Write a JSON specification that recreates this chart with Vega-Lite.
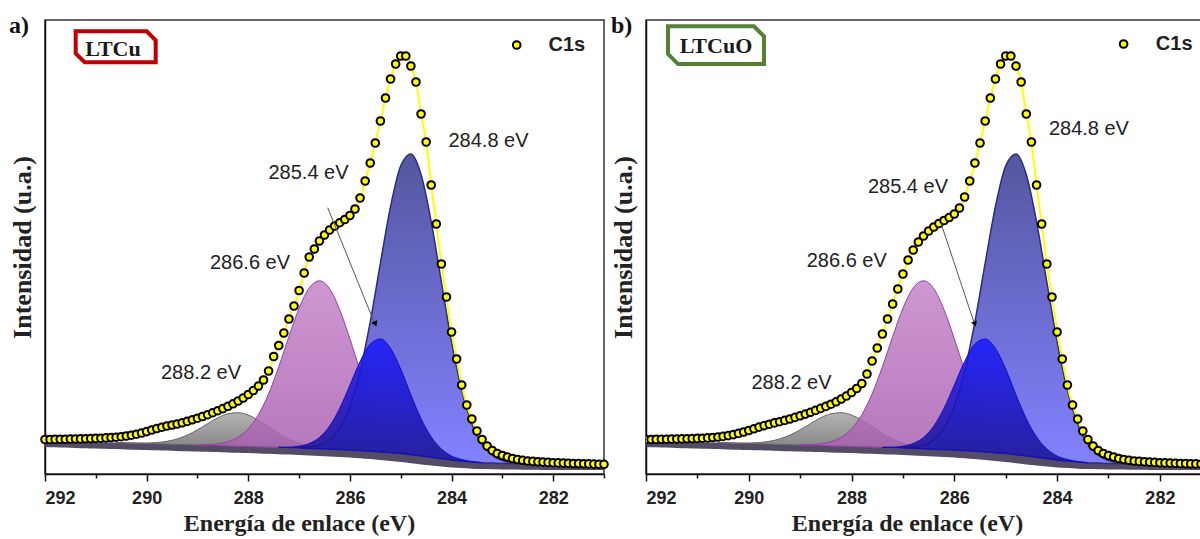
{
  "$schema": "https://vega.github.io/schema/vega-lite/v6.json",
  "padding": {"left": 8, "top": 13, "right": 0, "bottom": 0},
  "background": "white",
  "spacing": 42,
  "bounds": "flush",
  "config": {
    "view": {"stroke": "#333", "strokeWidth": 1.5},
    "axis": {"grid": false, "domainColor": "#111", "domainWidth": 1.5, "tickColor": "#111", "tickWidth": 1.5, "labelFont": "Liberation Sans", "labelFontWeight": "bold", "labelFontSize": 18, "labelColor": "#222", "titleFont": "Liberation Serif", "titleFontWeight": "bold", "titleFontSize": 24, "titleColor": "#222"}
  },
  "datasets": {
    "dots": [
      {"e":292.0,"i":34.5},{"e":291.9,"i":34.5},{"e":291.8,"i":34.6},{"e":291.7,"i":34.7},{"e":291.6,"i":34.8},{"e":291.5,"i":34.9},{"e":291.4,"i":35.0},{"e":291.3,"i":35.1},{"e":291.2,"i":35.2},{"e":291.1,"i":35.4},
      {"e":291.0,"i":35.6},{"e":290.9,"i":35.8},{"e":290.8,"i":36.1},{"e":290.7,"i":36.4},{"e":290.6,"i":36.8},{"e":290.5,"i":37.3},{"e":290.4,"i":38.0},{"e":290.3,"i":38.8},{"e":290.2,"i":39.8},{"e":290.1,"i":41.0},
      {"e":290.0,"i":42.4},{"e":289.9,"i":44.0},{"e":289.8,"i":45.5},{"e":289.7,"i":46.8},{"e":289.6,"i":48.0},{"e":289.5,"i":49.0},{"e":289.4,"i":50.0},{"e":289.3,"i":51.2},{"e":289.2,"i":52.6},{"e":289.1,"i":54.2},
      {"e":289.0,"i":55.8},{"e":288.9,"i":57.5},{"e":288.8,"i":59.3},{"e":288.7,"i":61.3},{"e":288.6,"i":63.3},{"e":288.5,"i":65.4},{"e":288.4,"i":67.7},{"e":288.3,"i":70.2},{"e":288.2,"i":73.0},{"e":288.1,"i":76.0},
      {"e":288.0,"i":79.5},{"e":287.9,"i":83.5},{"e":287.8,"i":88.0},{"e":287.7,"i":94.0},{"e":287.6,"i":103.0},{"e":287.5,"i":117.5},{"e":287.4,"i":128.5},{"e":287.3,"i":141.0},{"e":287.2,"i":155.0},{"e":287.1,"i":168.0},
      {"e":287.0,"i":183.5},{"e":286.9,"i":201.0},{"e":286.8,"i":217.0},{"e":286.7,"i":225.0},{"e":286.6,"i":233.0},{"e":286.5,"i":239.0},{"e":286.4,"i":244.0},{"e":286.3,"i":248.0},{"e":286.2,"i":251.3},{"e":286.1,"i":254.5},
      {"e":286.0,"i":258.5},{"e":285.9,"i":265},{"e":285.8,"i":276},{"e":285.7,"i":293},{"e":285.6,"i":311},{"e":285.5,"i":331},{"e":285.4,"i":353},{"e":285.3,"i":376},{"e":285.2,"i":395},{"e":285.1,"i":410},
      {"e":285.0,"i":418},{"e":284.9,"i":418},{"e":284.8,"i":408},{"e":284.7,"i":392},{"e":284.6,"i":360},{"e":284.5,"i":332},{"e":284.4,"i":289},{"e":284.3,"i":250},{"e":284.2,"i":210},{"e":284.1,"i":177},
      {"e":284.0,"i":142},{"e":283.9,"i":115},{"e":283.8,"i":89},{"e":283.7,"i":69},{"e":283.6,"i":55},{"e":283.5,"i":43},{"e":283.4,"i":34.5},{"e":283.3,"i":28},{"e":283.2,"i":23.5},{"e":283.1,"i":20.5},
      {"e":283.0,"i":18.5},{"e":282.9,"i":17},{"e":282.8,"i":15.5},{"e":282.7,"i":14.5},{"e":282.6,"i":13.7},{"e":282.5,"i":13},{"e":282.4,"i":12.6},{"e":282.3,"i":12.2},{"e":282.2,"i":11.9},{"e":282.1,"i":11.6},
      {"e":282.0,"i":11.3},{"e":281.9,"i":11.1},{"e":281.8,"i":10.9},{"e":281.7,"i":10.7},{"e":281.6,"i":10.5},{"e":281.5,"i":10.4},{"e":281.4,"i":10.2},{"e":281.3,"i":10.1},{"e":281.2,"i":9.9},{"e":281.1,"i":9.8},
      {"e":281.0,"i":9.7}
    ],
    "dotsB": [
      {"e":292.0,"i":34.5},{"e":291.9,"i":34.5},{"e":291.8,"i":34.6},{"e":291.7,"i":34.7},{"e":291.6,"i":34.8},{"e":291.5,"i":34.9},{"e":291.4,"i":35.0},{"e":291.3,"i":35.1},{"e":291.2,"i":35.2},{"e":291.1,"i":35.4},
      {"e":291.0,"i":35.6},{"e":290.9,"i":35.8},{"e":290.8,"i":36.1},{"e":290.7,"i":36.5},{"e":290.6,"i":37.0},{"e":290.5,"i":37.6},{"e":290.4,"i":38.4},{"e":290.3,"i":39.4},{"e":290.2,"i":40.6},{"e":290.1,"i":42.0},
      {"e":290.0,"i":43.5},{"e":289.9,"i":45.2},{"e":289.8,"i":46.9},{"e":289.7,"i":48.4},{"e":289.6,"i":49.8},{"e":289.5,"i":51.1},{"e":289.4,"i":52.3},{"e":289.3,"i":53.6},{"e":289.2,"i":55.0},{"e":289.1,"i":56.6},
      {"e":289.0,"i":58.2},{"e":288.9,"i":59.9},{"e":288.8,"i":61.7},{"e":288.7,"i":63.6},{"e":288.6,"i":65.6},{"e":288.5,"i":67.6},{"e":288.4,"i":69.8},{"e":288.3,"i":72.2},{"e":288.2,"i":75.0},{"e":288.1,"i":78.0},
      {"e":288.0,"i":81.5},{"e":287.9,"i":85.5},{"e":287.8,"i":90.5},{"e":287.7,"i":100.0},{"e":287.6,"i":113.0},{"e":287.5,"i":126.0},{"e":287.4,"i":140.0},{"e":287.3,"i":155.0},{"e":287.2,"i":170.0},{"e":287.1,"i":185.0},
      {"e":287.0,"i":200.0},{"e":286.9,"i":214.0},{"e":286.8,"i":224.0},{"e":286.7,"i":232.0},{"e":286.6,"i":238.0},{"e":286.5,"i":243.0},{"e":286.4,"i":247.0},{"e":286.3,"i":250.5},{"e":286.2,"i":253.5},{"e":286.1,"i":256.5},
      {"e":286.0,"i":260.0},{"e":285.9,"i":266},{"e":285.8,"i":277},{"e":285.7,"i":293},{"e":285.6,"i":311},{"e":285.5,"i":331},{"e":285.4,"i":353},{"e":285.3,"i":376},{"e":285.2,"i":395},{"e":285.1,"i":410},
      {"e":285.0,"i":418},{"e":284.9,"i":418},{"e":284.8,"i":408},{"e":284.7,"i":392},{"e":284.6,"i":360},{"e":284.5,"i":332},{"e":284.4,"i":289},{"e":284.3,"i":250},{"e":284.2,"i":210},{"e":284.1,"i":177},
      {"e":284.0,"i":142},{"e":283.9,"i":115},{"e":283.8,"i":89},{"e":283.7,"i":69},{"e":283.6,"i":55},{"e":283.5,"i":43},{"e":283.4,"i":34.5},{"e":283.3,"i":28},{"e":283.2,"i":23.5},{"e":283.1,"i":20.5},
      {"e":283.0,"i":18.5},{"e":282.9,"i":17},{"e":282.8,"i":15.5},{"e":282.7,"i":14.5},{"e":282.6,"i":13.7},{"e":282.5,"i":13},{"e":282.4,"i":12.6},{"e":282.3,"i":12.2},{"e":282.2,"i":11.9},{"e":282.1,"i":11.6},
      {"e":282.0,"i":11.3},{"e":281.9,"i":11.1},{"e":281.8,"i":10.9},{"e":281.7,"i":10.7},{"e":281.6,"i":10.5},{"e":281.5,"i":10.4},{"e":281.4,"i":10.2},{"e":281.3,"i":10.1},{"e":281.2,"i":9.9},{"e":281.1,"i":9.8},
      {"e":281.0,"i":9.7}
    ],
    "fit": [
      {"k":"bg","e":292.0,"i":33,"b":27},{"k":"bg","e":291.8,"i":32.8,"b":26.7},{"k":"bg","e":291.6,"i":32.6,"b":26.4},{"k":"bg","e":291.4,"i":32.4,"b":26.1},{"k":"bg","e":291.2,"i":32.2,"b":25.8},
      {"k":"bg","e":291.0,"i":32,"b":25.5},{"k":"bg","e":290.8,"i":31.7,"b":25.2},{"k":"bg","e":290.6,"i":31.4,"b":24.9},{"k":"bg","e":290.4,"i":31.1,"b":24.6},{"k":"bg","e":290.2,"i":30.8,"b":24.3},
      {"k":"bg","e":290.0,"i":30.5,"b":24},{"k":"bg","e":289.8,"i":30.2,"b":23.7},{"k":"bg","e":289.6,"i":29.9,"b":23.4},{"k":"bg","e":289.4,"i":29.6,"b":23.1},{"k":"bg","e":289.2,"i":29.3,"b":22.8},
      {"k":"bg","e":289.0,"i":29,"b":22.5},{"k":"bg","e":288.8,"i":28.7,"b":22.2},{"k":"bg","e":288.6,"i":28.4,"b":21.9},{"k":"bg","e":288.4,"i":28.1,"b":21.6},{"k":"bg","e":288.2,"i":27.8,"b":21.3},
      {"k":"bg","e":288.0,"i":27.5,"b":21},{"k":"bg","e":287.8,"i":27.2,"b":20.6},{"k":"bg","e":287.6,"i":26.9,"b":20.2},{"k":"bg","e":287.4,"i":26.6,"b":19.8},{"k":"bg","e":287.2,"i":26.3,"b":19.4},
      {"k":"bg","e":287.0,"i":26,"b":19},{"k":"bg","e":286.8,"i":25.6,"b":18.5},{"k":"bg","e":286.6,"i":25.2,"b":18},{"k":"bg","e":286.4,"i":24.8,"b":17.5},{"k":"bg","e":286.2,"i":24.4,"b":17},
      {"k":"bg","e":286.0,"i":24,"b":16.5},{"k":"bg","e":285.8,"i":23.4,"b":15.7},{"k":"bg","e":285.6,"i":22.8,"b":14.9},{"k":"bg","e":285.4,"i":22.1,"b":14},{"k":"bg","e":285.2,"i":21.3,"b":13},
      {"k":"bg","e":285.0,"i":20.5,"b":12},{"k":"bg","e":284.8,"i":19.3,"b":10.8},{"k":"bg","e":284.6,"i":18.1,"b":9.6},{"k":"bg","e":284.4,"i":16.8,"b":8.5},{"k":"bg","e":284.2,"i":15.4,"b":7.5},
      {"k":"bg","e":284.0,"i":14,"b":6.5},{"k":"bg","e":283.8,"i":13,"b":5.9},{"k":"bg","e":283.6,"i":12,"b":5.3},{"k":"bg","e":283.4,"i":11.3,"b":4.9},{"k":"bg","e":283.2,"i":10.9,"b":4.7},
      {"k":"bg","e":283.0,"i":10.5,"b":4.5},{"k":"bg","e":282.8,"i":10.4,"b":4.4},{"k":"bg","e":282.6,"i":10.3,"b":4.3},{"k":"bg","e":282.4,"i":10.2,"b":4.2},{"k":"bg","e":282.2,"i":10.1,"b":4.1},
      {"k":"bg","e":282.0,"i":10,"b":4},{"k":"bg","e":281.8,"i":9.9,"b":4},{"k":"bg","e":281.6,"i":9.8,"b":4},{"k":"bg","e":281.4,"i":9.7,"b":4},{"k":"bg","e":281.2,"i":9.6,"b":4},{"k":"bg","e":281.0,"i":9.5,"b":4},

      {"k":"c4","e":290.6,"i":31.4,"b":31.4},{"k":"c4","e":290.4,"i":31.2,"b":31.1},{"k":"c4","e":290.2,"i":31.0,"b":30.8},{"k":"c4","e":290.0,"i":31.0,"b":30.5},{"k":"c4","e":289.8,"i":31.5,"b":30.2},
      {"k":"c4","e":289.6,"i":32.7,"b":29.9},{"k":"c4","e":289.4,"i":35.1,"b":29.6},{"k":"c4","e":289.2,"i":38.9,"b":29.3},{"k":"c4","e":289.0,"i":44.2,"b":29},{"k":"c4","e":288.8,"i":50.3,"b":28.7},
      {"k":"c4","e":288.6,"i":56.2,"b":28.4},{"k":"c4","e":288.4,"i":60.2,"b":28.1},{"k":"c4","e":288.2,"i":61.3,"b":27.8},{"k":"c4","e":288.0,"i":59.0,"b":27.5},{"k":"c4","e":287.8,"i":53.8,"b":27.2},
      {"k":"c4","e":287.6,"i":47.2,"b":26.9},{"k":"c4","e":287.4,"i":40.6,"b":26.6},{"k":"c4","e":287.2,"i":35.0,"b":26.3},{"k":"c4","e":287.0,"i":30.8,"b":26},{"k":"c4","e":286.8,"i":28.0,"b":25.6},
      {"k":"c4","e":286.6,"i":26.3,"b":25.2},{"k":"c4","e":286.4,"i":25.3,"b":24.8},{"k":"c4","e":286.2,"i":24.6,"b":24.4},{"k":"c4","e":286.0,"i":24.0,"b":24},

      {"k":"c3","e":289.0,"i":29.2,"b":29},{"k":"c3","e":288.8,"i":29.4,"b":28.7},{"k":"c3","e":288.6,"i":30.1,"b":28.4},{"k":"c3","e":288.4,"i":32.2,"b":28.1},{"k":"c3","e":288.2,"i":36.7,"b":27.8},
      {"k":"c3","e":288.0,"i":45.2,"b":27.5},{"k":"c3","e":287.8,"i":59.4,"b":27.2},{"k":"c3","e":287.6,"i":80.2,"b":26.9},{"k":"c3","e":287.4,"i":107.2,"b":26.6},{"k":"c3","e":287.2,"i":137.4,"b":26.3},
      {"k":"c3","e":287.0,"i":165.8,"b":26},{"k":"c3","e":286.8,"i":186.1,"b":25.6},{"k":"c3","e":286.6,"i":193.2,"b":25.2},{"k":"c3","e":286.4,"i":185.3,"b":24.8},{"k":"c3","e":286.2,"i":164.2,"b":24.4},
      {"k":"c3","e":286.0,"i":135.1,"b":24},{"k":"c3","e":285.8,"i":104.0,"b":23.4},{"k":"c3","e":285.6,"i":76.1,"b":22.8},{"k":"c3","e":285.4,"i":54.3,"b":22.1},{"k":"c3","e":285.2,"i":39.0,"b":21.3},
      {"k":"c3","e":285.0,"i":29.4,"b":20.5},{"k":"c3","e":284.8,"i":23.4,"b":19.3},{"k":"c3","e":284.6,"i":19.8,"b":18.1},{"k":"c3","e":284.4,"i":17.5,"b":16.8},{"k":"c3","e":284.2,"i":15.6,"b":15.4},

      {"k":"c2","e":287.4,"i":26.8,"b":26.6},{"k":"c2","e":287.2,"i":26.9,"b":26.3},{"k":"c2","e":287.0,"i":27.8,"b":26},{"k":"c2","e":286.8,"i":30.5,"b":25.6},{"k":"c2","e":286.6,"i":36.5,"b":25.2},
      {"k":"c2","e":286.4,"i":47.9,"b":24.8},{"k":"c2","e":286.2,"i":65.7,"b":24.4},{"k":"c2","e":286.0,"i":88.8,"b":24},{"k":"c2","e":285.8,"i":112.4,"b":23.4},{"k":"c2","e":285.6,"i":129.9,"b":22.8},
      {"k":"c2","e":285.4,"i":135.0,"b":22.1},{"k":"c2","e":285.2,"i":125.6,"b":21.3},{"k":"c2","e":285.0,"i":104.9,"b":20.5},{"k":"c2","e":284.8,"i":79.2,"b":19.3},{"k":"c2","e":284.6,"i":55.3,"b":18.1},
      {"k":"c2","e":284.4,"i":37.0,"b":16.8},{"k":"c2","e":284.2,"i":25.1,"b":15.4},{"k":"c2","e":284.0,"i":18.0,"b":14},{"k":"c2","e":283.8,"i":14.5,"b":13},{"k":"c2","e":283.6,"i":12.5,"b":12},{"k":"c2","e":283.4,"i":11.4,"b":11.3},

      {"k":"c1","e":287.0,"i":26.4,"b":26},{"k":"c1","e":286.8,"i":26.9,"b":25.6},{"k":"c1","e":286.6,"i":28.9,"b":25.2},{"k":"c1","e":286.4,"i":34.2,"b":24.8},{"k":"c1","e":286.2,"i":45.8,"b":24.4},
      {"k":"c1","e":286.0,"i":67.5,"b":24},{"k":"c1","e":285.8,"i":102.7,"b":23.4},{"k":"c1","e":285.6,"i":152.1,"b":22.8},{"k":"c1","e":285.4,"i":210.8,"b":22.1},{"k":"c1","e":285.2,"i":267.6,"b":21.3},
      {"k":"c1","e":285.0,"i":308.3,"b":20.5},{"k":"c1","e":284.8,"i":320.1,"b":19.3},{"k":"c1","e":284.6,"i":299.5,"b":18.1},{"k":"c1","e":284.4,"i":252.4,"b":16.8},{"k":"c1","e":284.2,"i":191.9,"b":15.4},
      {"k":"c1","e":284.0,"i":132.3,"b":14},{"k":"c1","e":283.8,"i":83.9,"b":13},{"k":"c1","e":283.6,"i":50.1,"b":12},{"k":"c1","e":283.4,"i":29.6,"b":11.3},{"k":"c1","e":283.2,"i":18.8,"b":10.9},
      {"k":"c1","e":283.0,"i":13.5,"b":10.5},{"k":"c1","e":282.8,"i":11.4,"b":10.4},{"k":"c1","e":282.6,"i":10.6,"b":10.3},{"k":"c1","e":282.4,"i":10.2,"b":10.2}
    ],
    "labA": [{"e":283.273,"i":333,"t":"284.8 eV"},{"e":286.815,"i":301,"t":"285.4 eV"},{"e":287.966,"i":211.3,"t":"286.6 eV"},{"e":288.93,"i":101.3,"t":"288.2 eV"}],
    "labB": [{"e":283.381,"i":345,"t":"284.8 eV"},{"e":286.903,"i":287,"t":"285.4 eV"},{"e":288.093,"i":213,"t":"286.6 eV"},{"e":289.169,"i":91.3,"t":"288.2 eV"}]
  },
  "hconcat": [
    {
      "width": 559, "height": 454,
      "encoding": {
        "x": {"field": "e", "type": "quantitative", "title": "Energía de enlace (eV)", "scale": {"domain": [292, 281], "nice": false, "zero": false},
              "axis": {"values": [292,291,290,289,288,287,286,285,284,283,282,281], "labelExpr": "datum.value % 2 === 0 ? datum.label : ''", "tickSize": {"condition": {"test": "datum.value % 2 === 0", "value": 7}, "value": 4}, "labelPadding": 8, "titlePadding": 4, "titleX": 254}},
        "y": {"field": "i", "type": "quantitative", "title": "Intensidad (u.a.)", "scale": {"domain": [0, 454], "nice": false, "zero": false}, "axis": {"labels": false, "ticks": false, "titlePadding": 10, "titleFontSize": 26}}
      },
      "layer": [
        {"data": {"name": "fit"}, "transform": [{"filter": "datum.k === 'bg'"}], "mark": {"type": "area", "interpolate": "monotone", "color": "#453c58", "opacity": 0.92}, "encoding": {"y2": {"field": "b"}}},
        {"data": {"name": "fit"}, "transform": [{"filter": "datum.k === 'c4'"}], "mark": {"type": "area", "interpolate": "monotone", "fill": {"gradient": "linear", "x1": 0, "y1": 0, "x2": 0, "y2": 1, "stops": [{"offset": 0, "color": "#ababab"}, {"offset": 1, "color": "#767676"}]}, "fillOpacity": 0.9, "stroke": "#666666", "strokeWidth": 1}, "encoding": {"y2": {"field": "b"}}},
        {"data": {"name": "fit"}, "transform": [{"filter": "datum.k === 'c3'"}], "mark": {"type": "area", "interpolate": "monotone", "fill": {"gradient": "linear", "x1": 0, "y1": 0, "x2": 0, "y2": 1, "stops": [{"offset": 0, "color": "#c585c9"}, {"offset": 1, "color": "#a860b0"}]}, "fillOpacity": 0.85, "stroke": "#9040a0", "strokeWidth": 1}, "encoding": {"y2": {"field": "b"}}},
        {"data": {"name": "fit"}, "transform": [{"filter": "datum.k === 'c1'"}], "mark": {"type": "area", "interpolate": "monotone", "fill": {"gradient": "linear", "x1": 0, "y1": 0, "x2": 0, "y2": 1, "stops": [{"offset": 0, "color": "#4c4d9a"}, {"offset": 1, "color": "#7b7bff"}]}, "fillOpacity": 0.95, "stroke": "#2c2c80", "strokeWidth": 1.5}, "encoding": {"y2": {"field": "b"}}},
        {"data": {"name": "fit"}, "transform": [{"filter": "datum.k === 'c2'"}], "mark": {"type": "area", "interpolate": "monotone", "fill": {"gradient": "linear", "x1": 0, "y1": 0, "x2": 0, "y2": 1, "stops": [{"offset": 0, "color": "#1818ff"}, {"offset": 1, "color": "#18108c"}]}, "fillOpacity": 0.85, "stroke": "#1010c0", "strokeWidth": 1}, "encoding": {"y2": {"field": "b"}}},
        {"data": {"name": "dots"}, "mark": {"type": "line", "interpolate": "monotone", "color": "#ffff00", "strokeWidth": 2}},
        {"data": {"name": "dots"}, "mark": {"type": "point", "filled": true, "fill": "#ffff00", "stroke": "#000000", "strokeWidth": 2, "size": 58, "opacity": 1}},
        {"data": {"values": [{"e": 286.437, "i": 266.3, "e2": 285.5, "i2": 149}]}, "mark": {"type": "rule", "color": "#555", "strokeWidth": 1}, "encoding": {"x2": {"field": "e2"}, "y2": {"field": "i2"}}},
        {"data": {"values": [{"e": 285.5, "i": 150}]}, "mark": {"type": "point", "shape": "triangle-up", "angle": 158, "filled": true, "color": "#000", "size": 40, "opacity": 1}},
        {"data": {"name": "labA"}, "mark": {"type": "text", "font": "Liberation Sans", "fontSize": 20, "color": "#222", "align": "center", "baseline": "middle"}, "encoding": {"text": {"field": "t"}}},
        {"data": {"values": [{"e": 292.708, "i": 448, "t": "a)"}]}, "mark": {"type": "text", "font": "Liberation Serif", "fontWeight": "bold", "fontSize": 24, "color": "#111", "align": "left", "baseline": "middle"}, "encoding": {"text": {"field": "t"}}},
        {"data": {"values": [{"e": 290.609, "i": 427.2}]}, "mark": {"type": "point", "shape": "M -1 -0.3875 L 0.775 -0.3875 L 1 -0.1625 L 1 0.3875 L -0.775 0.3875 L -1 0.1625 Z", "size": 6400, "filled": false, "fill": "#ffffff", "fillOpacity": 1, "stroke": "#c00000", "strokeWidth": 4, "opacity": 1}},
        {"data": {"values": [{"e": 290.662, "i": 425.5, "t": "LTCu"}]}, "mark": {"type": "text", "font": "Liberation Serif", "fontWeight": "bold", "fontSize": 22, "color": "#1a1a1a", "align": "center", "baseline": "middle"}, "encoding": {"text": {"field": "t"}}},
        {"data": {"values": [{"e": 282.718, "i": 429}]}, "mark": {"type": "point", "filled": true, "fill": "#ffff00", "stroke": "#000000", "strokeWidth": 2, "size": 58, "opacity": 1}},
        {"data": {"values": [{"e": 281.732, "i": 429, "t": "C1s"}]}, "mark": {"type": "text", "font": "Liberation Sans", "fontWeight": "bold", "fontSize": 20, "color": "#222", "align": "center", "baseline": "middle"}, "encoding": {"text": {"field": "t"}}}
      ]
    },
    {
      "width": 555, "height": 454,
      "encoding": {
        "x": {"field": "e", "type": "quantitative", "title": "Energía de enlace (eV)", "scale": {"domain": [292, 281.2], "nice": false, "zero": false},
              "axis": {"values": [292,291,290,289,288,287,286,285,284,283,282], "labelExpr": "datum.value % 2 === 0 ? datum.label : ''", "tickSize": {"condition": {"test": "datum.value % 2 === 0", "value": 7}, "value": 4}, "labelPadding": 8, "titlePadding": 4, "titleX": 261}},
        "y": {"field": "i", "type": "quantitative", "title": "Intensidad (u.a.)", "scale": {"domain": [0, 454], "nice": false, "zero": false}, "axis": {"labels": false, "ticks": false, "titlePadding": 10, "titleFontSize": 26}}
      },
      "layer": [
        {"data": {"name": "fit"}, "transform": [{"filter": "datum.k === 'bg'"}], "mark": {"type": "area", "interpolate": "monotone", "color": "#453c58", "opacity": 0.92, "clip": true}, "encoding": {"y2": {"field": "b"}}},
        {"data": {"name": "fit"}, "transform": [{"filter": "datum.k === 'c4'"}], "mark": {"type": "area", "interpolate": "monotone", "clip": true, "fill": {"gradient": "linear", "x1": 0, "y1": 0, "x2": 0, "y2": 1, "stops": [{"offset": 0, "color": "#ababab"}, {"offset": 1, "color": "#767676"}]}, "fillOpacity": 0.9, "stroke": "#666666", "strokeWidth": 1}, "encoding": {"y2": {"field": "b"}}},
        {"data": {"name": "fit"}, "transform": [{"filter": "datum.k === 'c3'"}], "mark": {"type": "area", "interpolate": "monotone", "clip": true, "fill": {"gradient": "linear", "x1": 0, "y1": 0, "x2": 0, "y2": 1, "stops": [{"offset": 0, "color": "#c585c9"}, {"offset": 1, "color": "#a860b0"}]}, "fillOpacity": 0.85, "stroke": "#9040a0", "strokeWidth": 1}, "encoding": {"y2": {"field": "b"}}},
        {"data": {"name": "fit"}, "transform": [{"filter": "datum.k === 'c1'"}], "mark": {"type": "area", "interpolate": "monotone", "clip": true, "fill": {"gradient": "linear", "x1": 0, "y1": 0, "x2": 0, "y2": 1, "stops": [{"offset": 0, "color": "#4c4d9a"}, {"offset": 1, "color": "#7b7bff"}]}, "fillOpacity": 0.95, "stroke": "#2c2c80", "strokeWidth": 1.5}, "encoding": {"y2": {"field": "b"}}},
        {"data": {"name": "fit"}, "transform": [{"filter": "datum.k === 'c2'"}], "mark": {"type": "area", "interpolate": "monotone", "clip": true, "fill": {"gradient": "linear", "x1": 0, "y1": 0, "x2": 0, "y2": 1, "stops": [{"offset": 0, "color": "#1818ff"}, {"offset": 1, "color": "#18108c"}]}, "fillOpacity": 0.85, "stroke": "#1010c0", "strokeWidth": 1}, "encoding": {"y2": {"field": "b"}}},
        {"data": {"name": "dotsB"}, "mark": {"type": "line", "interpolate": "monotone", "color": "#ffff00", "strokeWidth": 2, "clip": true}},
        {"data": {"name": "dotsB"}, "mark": {"type": "point", "filled": true, "fill": "#ffff00", "stroke": "#000000", "strokeWidth": 2, "size": 58, "opacity": 1, "clip": true}},
        {"data": {"values": [{"e": 286.261, "i": 251, "e2": 285.6, "i2": 149}]}, "mark": {"type": "rule", "color": "#555", "strokeWidth": 1}, "encoding": {"x2": {"field": "e2"}, "y2": {"field": "i2"}}},
        {"data": {"values": [{"e": 285.6, "i": 150}]}, "mark": {"type": "point", "shape": "triangle-up", "angle": 161, "filled": true, "color": "#000", "size": 40, "opacity": 1}},
        {"data": {"name": "labB"}, "mark": {"type": "text", "font": "Liberation Sans", "fontSize": 20, "color": "#222", "align": "center", "baseline": "middle"}, "encoding": {"text": {"field": "t"}}},
        {"data": {"values": [{"e": 292.681, "i": 448, "t": "b)"}]}, "mark": {"type": "text", "font": "Liberation Serif", "fontWeight": "bold", "fontSize": 24, "color": "#111", "align": "left", "baseline": "middle"}, "encoding": {"text": {"field": "t"}}},
        {"data": {"values": [{"e": 290.638, "i": 428.8}]}, "mark": {"type": "point", "shape": "M -1 -0.393 L 0.79 -0.393 L 1 -0.183 L 1 0.393 L -0.79 0.393 L -1 0.183 Z", "size": 9216, "filled": false, "fill": "#ffffff", "fillOpacity": 1, "stroke": "#538135", "strokeWidth": 4, "opacity": 1}},
        {"data": {"values": [{"e": 290.638, "i": 428.5, "t": "LTCuO"}]}, "mark": {"type": "text", "font": "Liberation Serif", "fontWeight": "bold", "fontSize": 22, "color": "#1a1a1a", "align": "center", "baseline": "middle"}, "encoding": {"text": {"field": "t"}}},
        {"data": {"values": [{"e": 282.706, "i": 430}]}, "mark": {"type": "point", "filled": true, "fill": "#ffff00", "stroke": "#000000", "strokeWidth": 2, "size": 58, "opacity": 1}},
        {"data": {"values": [{"e": 281.722, "i": 430, "t": "C1s"}]}, "mark": {"type": "text", "font": "Liberation Sans", "fontWeight": "bold", "fontSize": 20, "color": "#222", "align": "center", "baseline": "middle"}, "encoding": {"text": {"field": "t"}}}
      ]
    }
  ]
}
